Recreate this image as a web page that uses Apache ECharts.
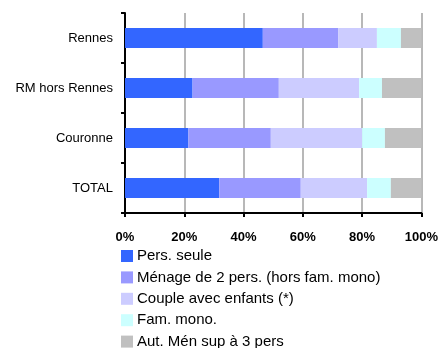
<!DOCTYPE html>
<html><head><meta charset="utf-8">
<script src="https://cdn.jsdelivr.net/npm/echarts@6/dist/echarts.min.js"></script>
<style>html,body{margin:0;padding:0;background:#fff}#c{width:441px;height:348px}</style>
</head><body><div id="c"></div>
<script>
const categories = ['Rennes', 'RM hors Rennes', 'Couronne', 'TOTAL'];
const seriesNames = ['Pers. seule', 'Ménage de 2 pers. (hors fam. mono)', 'Couple avec enfants (*)', 'Fam. mono.', 'Aut. Mén sup à 3 pers'];
const persSeule = [46.5, 22.8, 21.4, 31.8];
const menage2 = [25.5, 29.1, 27.8, 27.5];
const coupleEnfants = [13.0, 27.1, 30.8, 22.4];
const famMono = [8.1, 7.7, 7.7, 8.0];
const autMen = [6.9, 13.3, 12.3, 10.3];
const colors = ['#3366FF', '#9999FF', '#CCCCFF', '#CCFFFF', '#C0C0C0'];
const xTicks = [0, 20, 40, 60, 80, 100];

const values = [persSeule, menage2, coupleEnfants, famMono, autMen];
const chart = echarts.init(document.getElementById('c'), null, {renderer: 'canvas'});
chart.setOption({
  animation: false,
  textStyle: {fontFamily: 'Liberation Sans, Arial, sans-serif'},
  grid: {left: 125, right: 17, top: 13, bottom: 135, containLabel: false},
  xAxis: {
    type: 'value', min: xTicks[0], max: xTicks[xTicks.length - 1], interval: 20,
    axisLine: {show: true, lineStyle: {color: '#000', width: 2}},
    axisTick: {show: true, length: 4, lineStyle: {color: '#000', width: 2}},
    axisLabel: {formatter: '{value}%', color: '#000', fontWeight: 'bold', fontSize: 13, margin: 18},
    splitLine: {show: true, lineStyle: {color: '#a0a0a0', width: 1.5}}
  },
  yAxis: {
    type: 'category', data: categories, inverse: true,
    axisLine: {show: true, lineStyle: {color: '#000', width: 2}},
    axisTick: {show: true, length: 4, lineStyle: {color: '#000', width: 2}},
    axisLabel: {color: '#000', fontSize: 13, margin: 12}
  },
  legend: {
    orient: 'vertical', left: 116, top: 243, height: 200,
    itemWidth: 12, itemHeight: 12, itemGap: 5.4,
    icon: 'rect',
    textStyle: {fontSize: 15, color: '#000', lineHeight: 16, padding: [0, 0, 0, -1]},
    data: seriesNames
  },
  series: seriesNames.map((n, i) => ({
    name: n, type: 'bar', stack: 'total', data: values[i],
    barWidth: 20, itemStyle: {color: colors[i]}
  }))
});
</script></body></html>
